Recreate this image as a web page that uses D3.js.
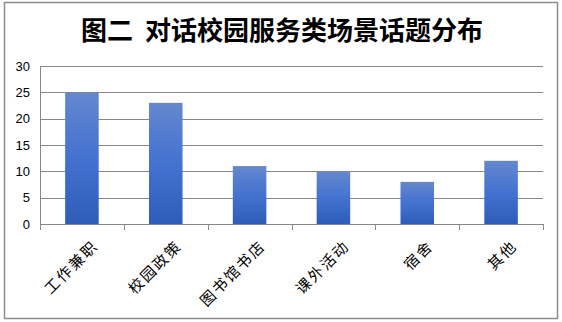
<!DOCTYPE html>
<html>
<head>
<meta charset="utf-8">
<script src="https://cdn.jsdelivr.net/npm/d3@7"></script>
<style>
  body { margin: 0; background: #fff; }
</style>
</head>
<body>
<div id="chart"></div>
<script>
const categories = ["工作兼职", "校园政策", "图书馆书店", "课外活动", "宿舍", "其他"];
const counts = [25, 23, 11, 10, 8, 12];
const yTicks = [0, 5, 10, 15, 20, 25, 30];
const title = "图二  对话校园服务类场景话题分布";

const W = 562, H = 322;
const margin = { top: 66, right: 20, bottom: 98, left: 40 };
const width = 543 - margin.left;
const height = 224 - margin.top;

const svg = d3.select("#chart").append("svg")
    .attr("width", W)
    .attr("height", H);

// bar gradient
const grad = svg.append("defs").append("linearGradient")
    .attr("id", "barGrad")
    .attr("x1", 0).attr("y1", 0).attr("x2", 0).attr("y2", 1);
grad.append("stop").attr("offset", "0%").attr("stop-color", "#6588cf");
grad.append("stop").attr("offset", "50%").attr("stop-color", "#4372d0");
grad.append("stop").attr("offset", "100%").attr("stop-color", "#2d5db9");

// outer frame
svg.append("rect")
    .attr("x", 4.5).attr("y", 2.5)
    .attr("width", 553).attr("height", 316)
    .attr("fill", "#fff")
    .attr("stroke", "#8c8c8c")
    .attr("stroke-width", 1.5);

svg.append("text")
    .attr("x", 282)
    .attr("y", 40)
    .attr("text-anchor", "middle")
    .attr("font-family", "'Noto Sans CJK SC'")
    .attr("font-weight", "bold")
    .attr("font-size", 26)
    .attr("fill", "#000")
    .attr("xml:space", "preserve")
    .text(title);

const g = svg.append("g")
    .attr("transform", `translate(${margin.left},${margin.top})`);

const x = d3.scaleBand()
    .domain(categories)
    .range([0, width])
    .paddingInner(0.6)
    .paddingOuter(0.3);

const y = d3.scaleLinear()
    .domain([0, 30])
    .range([height, 0]);

// gridlines
g.selectAll(".grid")
    .data(yTicks.filter(d => d > 0))
    .enter().append("line")
    .attr("class", "grid")
    .attr("x1", 0).attr("x2", width)
    .attr("y1", d => Math.round(y(d)) + 0.5)
    .attr("y2", d => Math.round(y(d)) + 0.5)
    .attr("stroke", "#878787")
    .attr("stroke-width", 1);

// bars
g.selectAll(".bar")
    .data(counts)
    .enter().append("rect")
    .attr("class", "bar")
    .attr("x", (d, i) => x(categories[i]))
    .attr("y", d => y(d))
    .attr("width", x.bandwidth())
    .attr("height", d => height - y(d))
    .attr("fill", "url(#barGrad)");

// y axis
const yAxis = g.append("g")
    .call(d3.axisLeft(y).tickValues(yTicks).tickSize(0).tickPadding(10));
yAxis.select(".domain").attr("stroke", "#878787");
yAxis.selectAll("text")
    .attr("font-family", "'Liberation Sans', Arial, sans-serif")
    .attr("font-size", 13)
    .attr("fill", "#000");

// x axis line and tick marks at band boundaries
const step = x.step();
g.append("line")
    .attr("x1", 0).attr("x2", width)
    .attr("y1", height + 0.5).attr("y2", height + 0.5)
    .attr("stroke", "#878787");
g.selectAll(".xtick")
    .data(d3.range(categories.length + 1))
    .enter().append("line")
    .attr("class", "xtick")
    .attr("x1", i => Math.round(i * step) + 0.5)
    .attr("x2", i => Math.round(i * step) + 0.5)
    .attr("y1", height)
    .attr("y2", height + 6)
    .attr("stroke", "#878787");

// rotated category labels
g.selectAll(".xlabel")
    .data(categories)
    .enter().append("text")
    .attr("class", "xlabel")
    .attr("transform", d => `translate(${x(d) + x.bandwidth() / 2 + 8},${height + 14}) rotate(-45)`)
    .attr("text-anchor", "end")
    .attr("dy", "0.85em")
    .attr("font-family", "'Noto Sans CJK SC'")
    .attr("font-size", 15)
    .attr("letter-spacing", 2)
    .attr("fill", "#000")
    .text(d => d);
</script>
</body>
</html>
